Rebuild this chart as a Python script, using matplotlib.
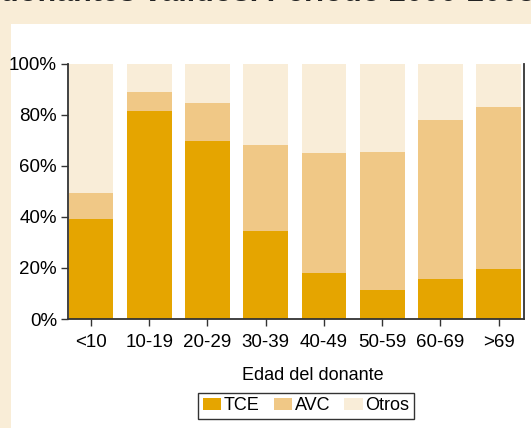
import numpy as np
import matplotlib
matplotlib.use('Agg')
import matplotlib.pyplot as plt
from matplotlib.patches import Rectangle

plt.rcParams['font.family'] = ['Liberation Sans', 'DejaVu Sans']
plt.rcParams['font.size'] = 13

# porcentaje de donantes por causa de muerte y grupo de edad
grupos = ['<10', '10-19', '20-29', '30-39', '40-49', '50-59', '60-69', '>69']
tce = [39.2, 81.5, 69.7, 34.5, 18.0, 11.4, 15.7, 19.6]
avc = [10.2, 7.6, 14.9, 33.7, 47.0, 54.0, 62.3, 63.4]
otros = [100 - t - a for t, a in zip(tce, avc)]

col_tce = '#E5A500'
col_avc = '#F0C886'
col_otros = '#F9EDD8'
fondo = '#F9EDD7'

fig = plt.figure(figsize=(5.31, 4.28), dpi=100, facecolor=fondo)
fig.patches.append(Rectangle((11/531, 0), 1, (428-24)/428, transform=fig.transFigure,
                             facecolor='white', edgecolor='none', zorder=0))

# titulo (recortado por arriba)
fig.text(0.0, 1.0 - 1/428, 'donantes válidos. Periodo 2000-2005', fontsize=22,
         fontweight='bold', ha='left', va='baseline', color='#222222')

ax = fig.add_axes([68/531, 109/428, 456/531, (319-63.7)/428])
ax.set_facecolor('none')
ax.set_zorder(2)

x = np.arange(len(grupos))
w = 0.77
b1 = ax.bar(x, tce, w, color=col_tce, label='TCE')
b2 = ax.bar(x, avc, w, bottom=tce, color=col_avc, label='AVC')
b3 = ax.bar(x, otros, w, bottom=np.array(tce) + np.array(avc), color=col_otros, label='Otros')

ax.set_xlim(-0.395, 7.434)
ax.set_ylim(0, 100)
ax.set_yticks(np.arange(0, 101, 20))
ax.set_yticklabels(['%d%%' % v for v in range(0, 101, 20)])
ax.set_xticks(x)
ax.set_xticklabels(grupos)
ax.tick_params(axis='both', direction='out', length=5, width=1, color='#333333',
               pad=3, labelsize=13.5)
ax.tick_params(axis='x', pad=6)

ax.spines['top'].set_visible(False)
for s in ['left', 'right', 'bottom']:
    ax.spines[s].set_color('#333333')
    ax.spines[s].set_linewidth(1.3)

fig.text(313/531, 1 - 375/428, 'Edad del donante', ha='center', va='center', zorder=3)

leg = fig.legend(handles=[b1, b2, b3], labels=['TCE', 'AVC', 'Otros'], ncol=3,
                 loc='center', bbox_to_anchor=(306/531, 1 - 406/428),
                 frameon=True, fancybox=False, handlelength=1.0, handleheight=0.6,
                 handletextpad=0.15, columnspacing=0.8, borderpad=0.25,
                 borderaxespad=0)
leg.set_zorder(3)
leg.get_frame().set_edgecolor('black')
leg.get_frame().set_linewidth(1.0)

plt.savefig('out.png', dpi=100, facecolor=fondo)
